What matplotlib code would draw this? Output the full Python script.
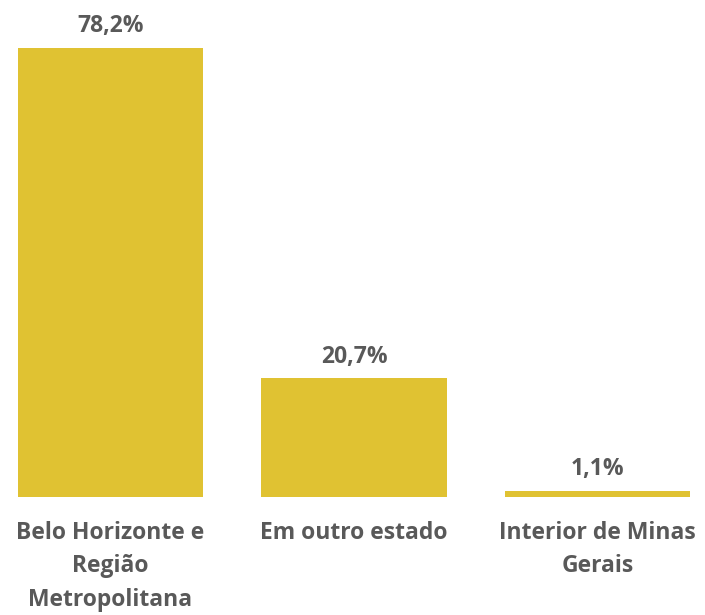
import matplotlib.pyplot as plt

categories = ['Belo Horizonte e\nRegião\nMetropolitana', 'Em outro estado', 'Interior de Minas\nGerais']
values = [78.2, 20.7, 1.1]
labels = ['78,2%', '20,7%', '1,1%']

bar_color = '#E0C232'
text_color = '#595959'

plt.rcParams['font.family'] = ['Open Sans', 'DejaVu Sans']

fig = plt.figure(figsize=(7.05, 6.15), dpi=100)
ax = fig.add_axes([0, 0.1919, 1, 0.8081])

x = range(len(values))
bars = ax.bar(x, values, width=0.76, color=bar_color)

for b, lab in zip(bars, labels):
    ax.annotate(lab, (b.get_x() + b.get_width() / 2, b.get_height()),
                xytext=(0, 15.5), textcoords='offset points',
                ha='center', va='center', fontsize=16.5, fontweight='bold',
                color=text_color)

ax.set_xlim(-0.4538, 2.4415)
ax.set_ylim(0, 86.5)
ax.set_xticks(list(x))
ax.set_xticklabels(categories, fontsize=16.5, fontweight='bold', color=text_color,
                   linespacing=1.55)
ax.tick_params(axis='x', length=0, pad=17)
ax.set_yticks([])
for s in ax.spines.values():
    s.set_visible(False)

fig.savefig('out.png', dpi=100)
